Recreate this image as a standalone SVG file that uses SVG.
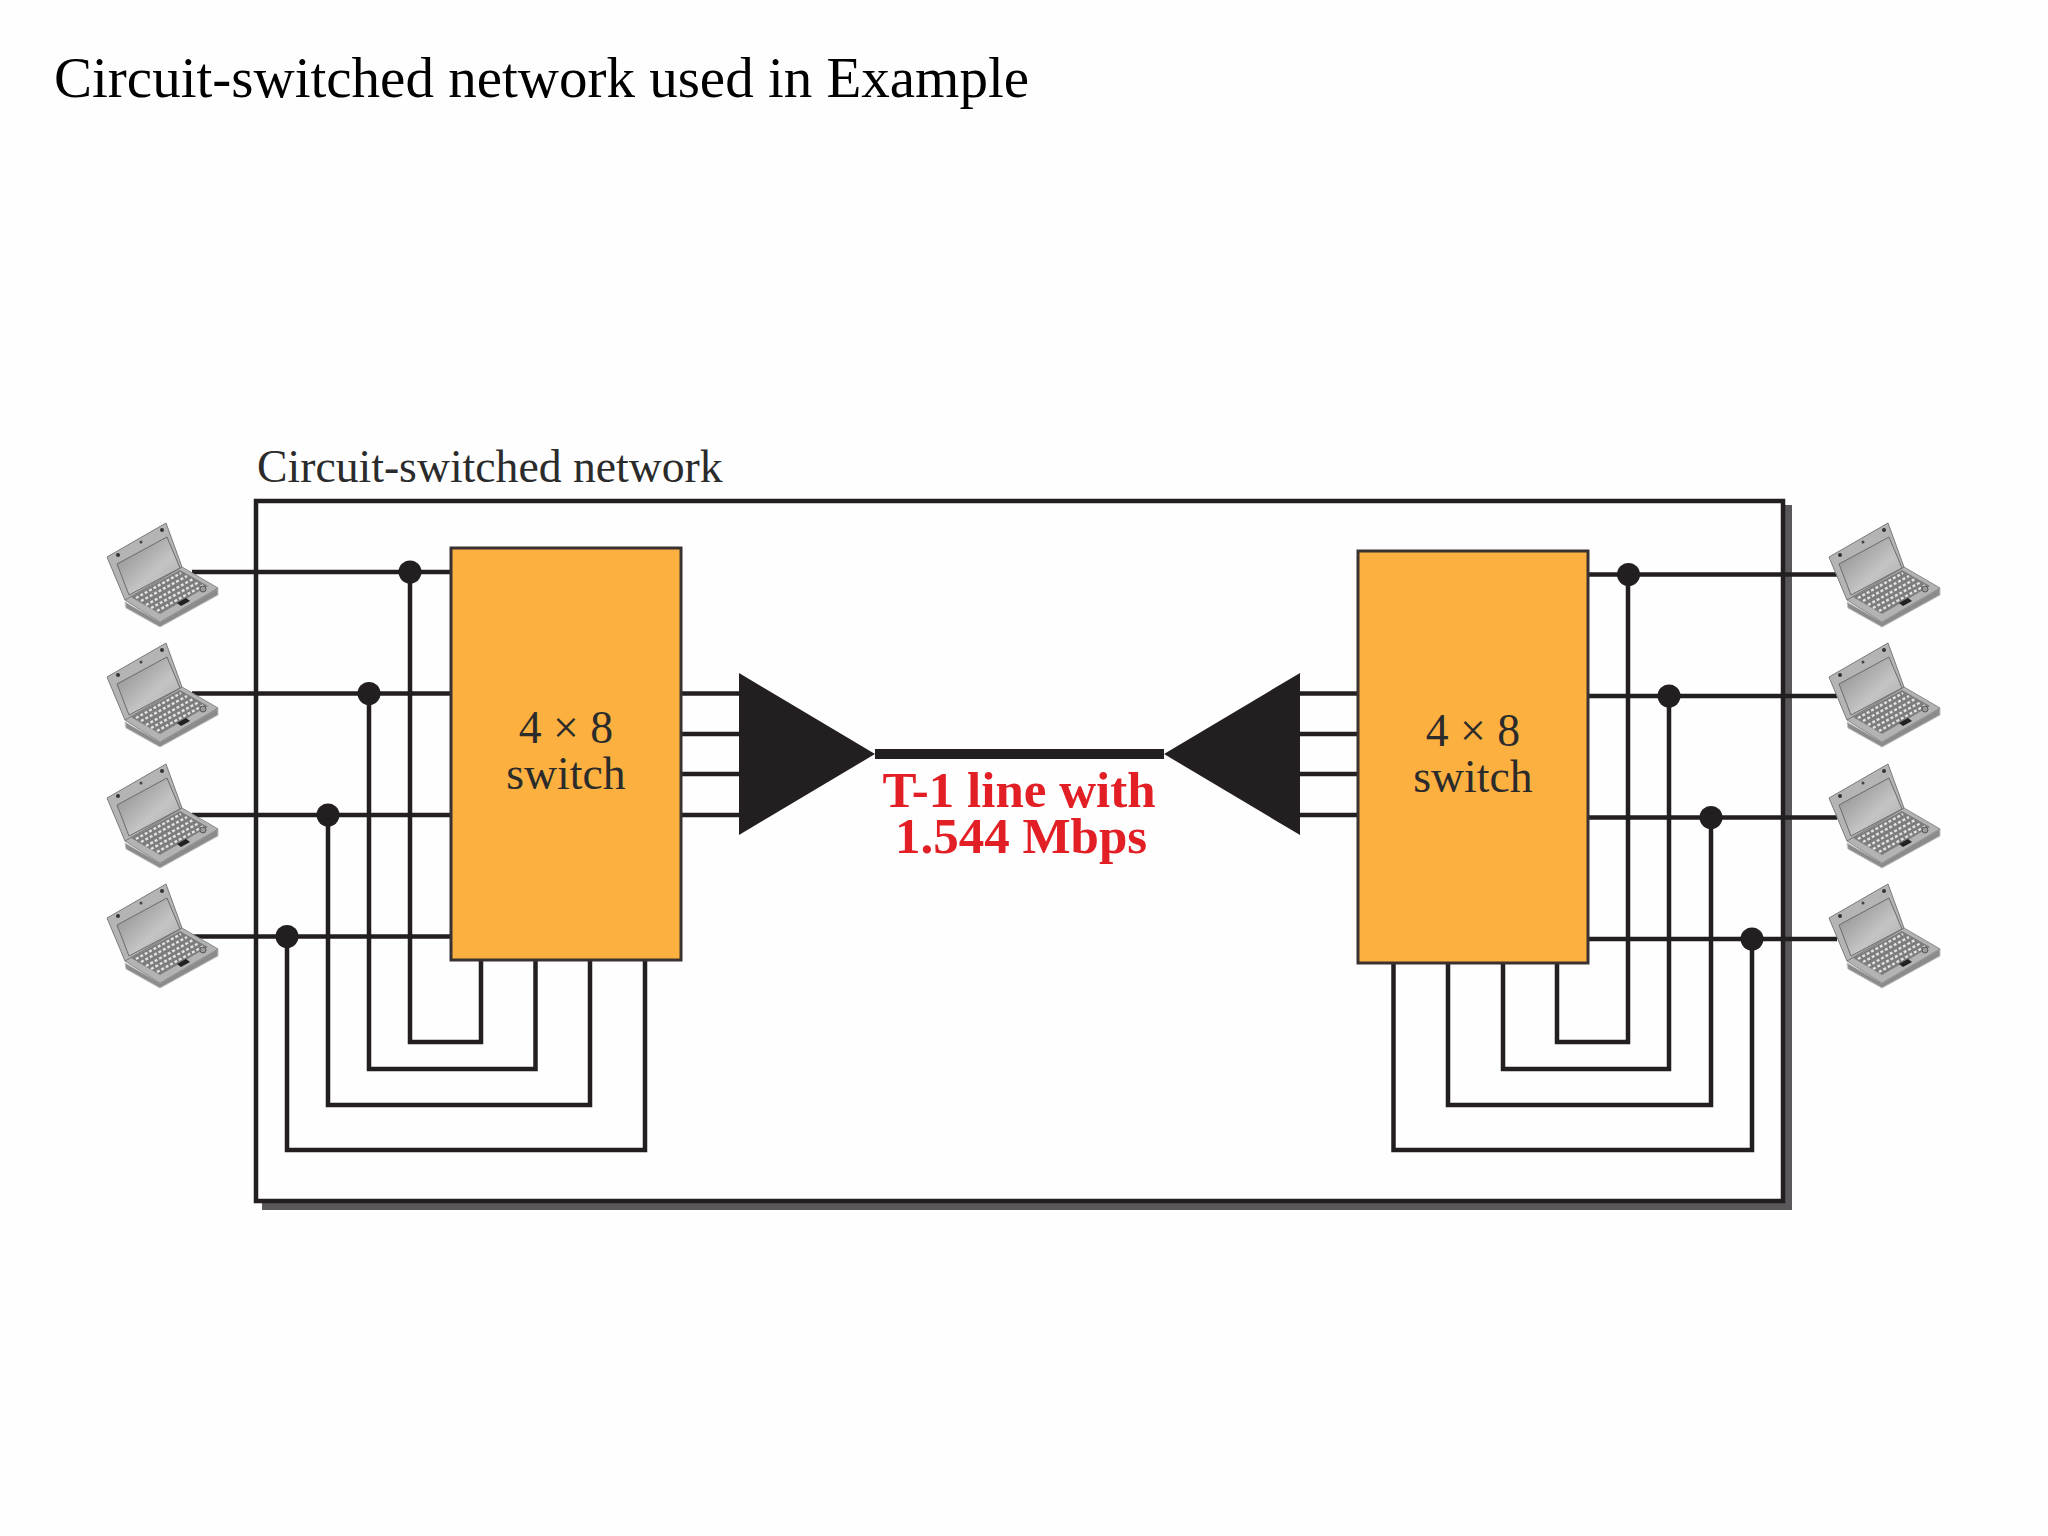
<svg xmlns="http://www.w3.org/2000/svg" width="2048" height="1536" viewBox="0 0 2048 1536">
<style>
.wire{fill:none;stroke:#231f20;stroke-width:4.5}
.dot{fill:#231f20}
.sw{fill:#fbb040;stroke:#3a3230;stroke-width:3}
.lbl{font-family:"Liberation Serif","Times New Roman",serif;fill:#2b2b2b;font-size:45.7px}
.mid{text-anchor:middle}
.red{font-family:"Liberation Serif","Times New Roman",serif;font-weight:bold;fill:#e31f26;font-size:51px;text-anchor:middle}
.tri{fill:#231f20}
</style>
<defs>
<linearGradient id="scr" x1="0" y1="0" x2="1" y2="1"><stop offset="0" stop-color="#858585"/><stop offset="0.6" stop-color="#c4c4c4"/><stop offset="1" stop-color="#a8a8a8"/></linearGradient>
<symbol id="laptop" width="112" height="106" viewBox="0 0 112 106" overflow="visible">
<polygon points="18,79 53,99 111,65 111,72 53,104 19,85" fill="#8b8b8b" stroke="#c0c0c0" stroke-width="1"/>
<polygon points="18,77 75,44 111,65 53,99" fill="#b3b3b3" stroke="#8a8a8a" stroke-width="1"/>
<polygon points="24,74 73,47 101,63 53,91" fill="#7d7d7d"/>
<g fill="none" stroke="#e2e2e2" stroke-width="2.4" stroke-dasharray="3 2">
<line x1="29" y1="75" x2="74" y2="50"/>
<line x1="34" y1="78" x2="80" y2="53"/>
<line x1="39" y1="82" x2="86" y2="56"/>
<line x1="44" y1="85" x2="92" y2="59"/>
<line x1="50" y1="88" x2="97" y2="62"/>
</g>
<polygon points="70,80 79,75 83,78 74,83" fill="#222"/>
<circle cx="96" cy="66" r="3" fill="#999" stroke="#555" stroke-width="1"/>
<polygon points="0,34 59,0 75,44 18,77" fill="#b4b4b4" stroke="#7b7b7b" stroke-width="1"/>
<polygon points="10,41 60,14 73,45 22,72" fill="url(#scr)" stroke="#6b6b6b" stroke-width="1"/>
<circle cx="11" cy="32" r="2" fill="#333"/><circle cx="34" cy="19" r="1.5" fill="#444"/><circle cx="55" cy="7" r="2" fill="#333"/>
</symbol>
</defs>
<rect width="2048" height="1536" fill="#fefefe"/>
<text x="54" y="97" font-family="'Liberation Serif','Times New Roman',serif" font-size="57" fill="#000">Circuit-switched network used in Example</text>
<g id="network">
<path d="M1787 505V1205H262" fill="none" stroke="#5a585a" stroke-width="10" stroke-linejoin="miter"/>
<rect x="256" y="501" width="1527" height="700" fill="#fefefe" stroke="#231f20" stroke-width="4.5"/>
<text class="lbl" x="257" y="482">Circuit-switched network</text>
</g>
<g id="connectors">
<path class="wire" d="M192 572H451M192 693.5H451M192 815H451M192 936.5H451"/>
<path class="wire" d="M410 572V1042H481V960M369 693.5V1069H535.500V960M328 815V1105H590V960M287 936.500V1150H645V960"/>
<path class="wire" d="M681 693.500H739M681 734H739M681 774H739M681 815H739"/>
<path class="wire" d="M1300 693.500H1358M1300 734H1358M1300 774H1358M1300 815H1358"/>
<path class="wire" d="M1588 574.500H1837M1588 696H1837M1588 817.500H1837M1588 939H1837"/>
<path class="wire" d="M1628 574.500V1042H1557V963M1669 696V1069H1503V963M1711 817.500V1105H1448V963M1752 939V1150H1393.500V963"/>
<path d="M875 754H1164" fill="none" stroke="#231f20" stroke-width="10"/>
<g class="dot">
<circle cx="410" cy="572" r="11.500"/><circle cx="369" cy="693.500" r="11.500"/><circle cx="328" cy="815" r="11.500"/><circle cx="287" cy="936.500" r="11.500"/>
<circle cx="1628.500" cy="574.500" r="11.500"/><circle cx="1669" cy="696" r="11.500"/><circle cx="1711" cy="817.500" r="11.500"/><circle cx="1752" cy="939" r="11.500"/>
</g>
</g>
<g id="switch-left">
<rect class="sw" x="451" y="548" width="230" height="412"/>
<text class="lbl mid" x="566" y="743">4 × 8</text>
<text class="lbl mid" x="566" y="789">switch</text>
</g>
<g id="switch-right">
<rect class="sw" x="1358" y="551" width="230" height="412"/>
<text class="lbl mid" x="1473" y="746">4 × 8</text>
<text class="lbl mid" x="1473" y="792">switch</text>
</g>
<g id="mux"><polygon class="tri" points="739,673 875,754 739,835"/></g>
<g id="demux"><polygon class="tri" points="1300,673 1164,754 1300,835"/></g>
<g id="t1-label">
<text class="red"><tspan x="1019" y="807">T-1 line with</tspan><tspan x="1021" y="853">1.544 Mbps</tspan></text>
</g>
<g id="laptop-l1"><use href="#laptop" x="107" y="523" width="112" height="106"/></g>
<g id="laptop-l2"><use href="#laptop" x="107" y="643" width="112" height="106"/></g>
<g id="laptop-l3"><use href="#laptop" x="107" y="764" width="112" height="106"/></g>
<g id="laptop-l4"><use href="#laptop" x="107" y="884" width="112" height="106"/></g>
<g id="laptop-r1"><use href="#laptop" x="1829" y="523" width="112" height="106"/></g>
<g id="laptop-r2"><use href="#laptop" x="1829" y="643" width="112" height="106"/></g>
<g id="laptop-r3"><use href="#laptop" x="1829" y="764" width="112" height="106"/></g>
<g id="laptop-r4"><use href="#laptop" x="1829" y="884" width="112" height="106"/></g>
</svg>
